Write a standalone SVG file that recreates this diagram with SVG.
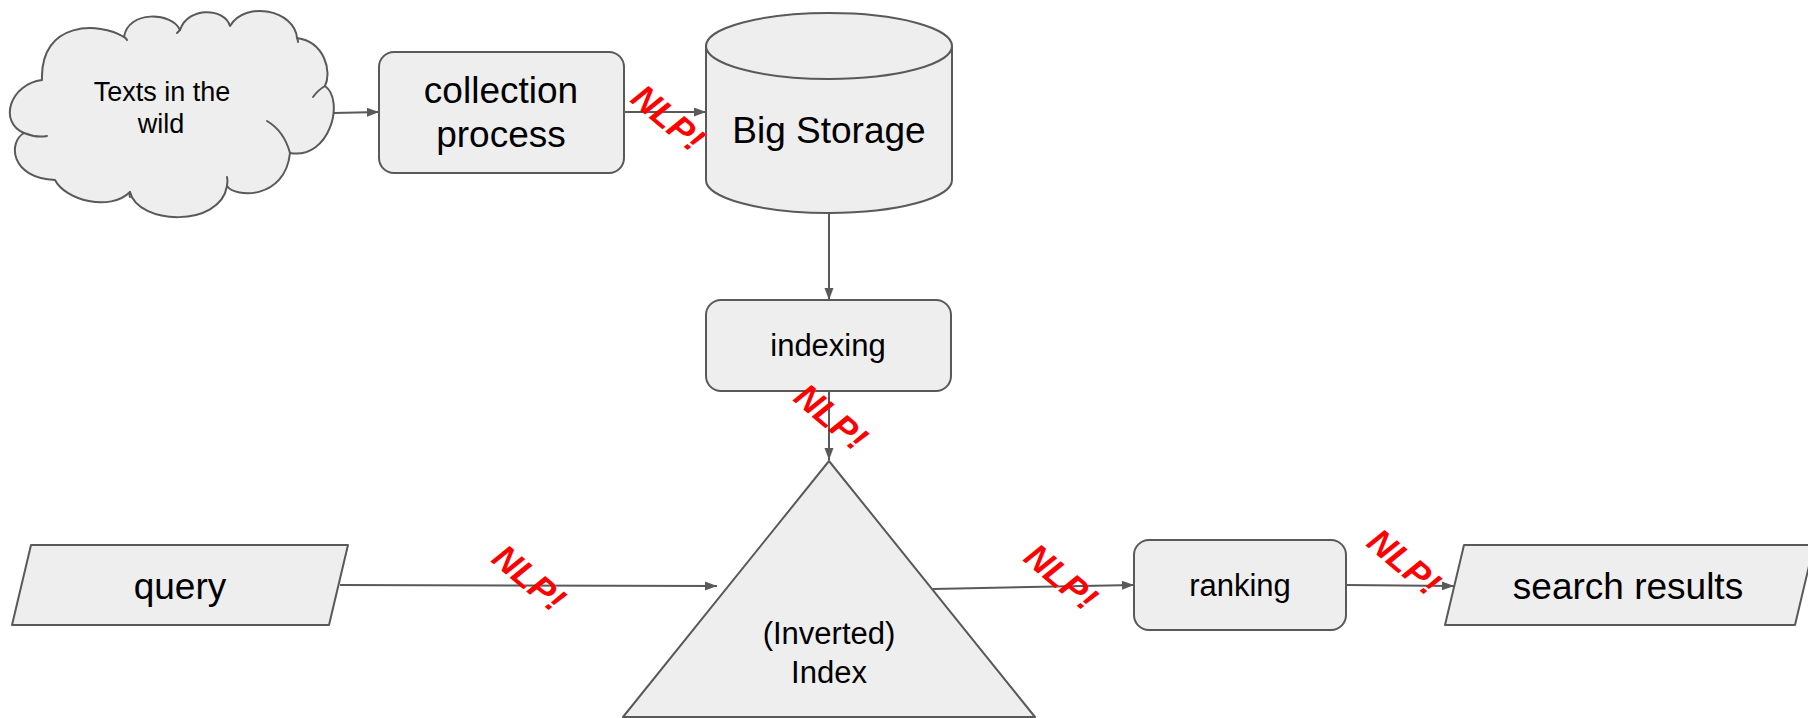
<svg xmlns="http://www.w3.org/2000/svg" width="1808" height="718" viewBox="0 0 1808 718">
  <style>
    .shape { fill: #eeeeee; stroke: #595959; stroke-width: 2; stroke-linejoin: round; }
    .tick { fill: none; stroke: #595959; stroke-width: 2; stroke-linecap: round; }
    .edge { fill: none; stroke: #595959; stroke-width: 2; }
    .label { font-family: "Liberation Sans", Arial, sans-serif; fill: #000000; text-anchor: middle; }
    .big { font-size: 37px; }
    .mid { font-size: 31px; }
    .small { font-size: 27px; }
    .nlp { font-family: "Liberation Sans", Arial, sans-serif; font-weight: bold; font-style: italic; font-size: 35px; fill: #ff0000; text-anchor: middle; }
  </style>
  <defs>
    <marker id="arrow" markerUnits="userSpaceOnUse" markerWidth="12" markerHeight="10" refX="12" refY="4.5" orient="auto">
      <path d="M0,0 L12,4.5 L0,9 Z" fill="#595959"/>
    </marker>
  </defs>

  <rect width="1808" height="718" fill="#ffffff"/>

  <!-- connectors -->
  <g id="connectors">
    <line class="edge" x1="334" y1="113" x2="379" y2="112" marker-end="url(#arrow)"/>
    <line class="edge" x1="624" y1="112" x2="706" y2="112" marker-end="url(#arrow)"/>
    <line class="edge" x1="829" y1="212" x2="829" y2="300" marker-end="url(#arrow)"/>
    <line class="edge" x1="829" y1="391" x2="829" y2="460" marker-end="url(#arrow)"/>
    <line class="edge" x1="340" y1="585" x2="717" y2="586" marker-end="url(#arrow)"/>
    <line class="edge" x1="933" y1="589" x2="1134" y2="585" marker-end="url(#arrow)"/>
    <line class="edge" x1="1346" y1="585" x2="1454" y2="586" marker-end="url(#arrow)"/>
  </g>

  <!-- cloud: texts in the wild -->
  <g id="cloud">
    <path class="shape" d="M42,80 C10,84 -2,122 24,133 C8,142 10,178 55,180 C65,200 110,212 130,192 C138,225 220,228 227,186 C235,198 285,200 290,153 C330,160 345,100 325,86 C332,72 325,42 297,38 C295,10 245,0 230,26 C225,8 188,6 180,30 C172,12 128,10 124,37 C100,22 40,20 42,80 Z"/>
    <path class="tick" d="M24,133 Q36,138 47,136"/>
    <path class="tick" d="M227,186 Q228,181 227,177"/>
    <path class="tick" d="M267,121 Q284,131 290,153"/>
    <path class="tick" d="M325,86 Q318,90 313,97"/>
    <path class="tick" d="M297,38 Q298,40 298,42"/>
    <path class="tick" d="M180,30 Q179,31 177,33"/>
    <path class="tick" d="M124,37 Q126,38 127,40"/>
    <path class="tick" d="M130,192 Q129,195 130,197"/>
    <text class="label small" x="162" y="101">Texts in the</text>
    <text class="label small" x="161" y="133">wild</text>
  </g>

  <!-- collection process -->
  <g id="collection">
    <rect class="shape" x="379" y="52" width="245" height="121" rx="15"/>
    <text class="label big" x="501" y="103">collection</text>
    <text class="label big" x="501" y="147">process</text>
  </g>

  <!-- big storage cylinder -->
  <g id="storage">
    <path class="shape" d="M706,46 L706,180 A123,33 0 0 0 952,180 L952,46 A123,33 0 0 0 706,46 Z"/>
    <path class="tick" d="M706,46 A123,33 0 0 0 952,46"/>
    <text class="label big" x="829" y="143">Big Storage</text>
  </g>

  <!-- indexing -->
  <g id="indexing">
    <rect class="shape" x="706" y="300" width="245" height="91" rx="15"/>
    <text class="label mid" x="828" y="356">indexing</text>
  </g>

  <!-- inverted index -->
  <g id="index">
    <path class="shape" d="M829,461 L1035,717 L623,717 Z"/>
    <text class="label mid" x="829" y="644">(Inverted)</text>
    <text class="label mid" x="829" y="683">Index</text>
  </g>

  <!-- query -->
  <g id="query">
    <path class="shape" d="M31,545 L348,545 L329,625 L12,625 Z"/>
    <text class="label big" x="180" y="599">query</text>
  </g>

  <!-- ranking -->
  <g id="ranking">
    <rect class="shape" x="1134" y="540" width="212" height="90" rx="15"/>
    <text class="label mid" x="1240" y="596">ranking</text>
  </g>

  <!-- search results -->
  <g id="results">
    <path class="shape" d="M1464,545 L1814,545 L1795,625 L1445,625 Z"/>
    <text class="label big" x="1628" y="599">search results</text>
  </g>

  <!-- NLP! markers -->
  <g id="nlp-marks">
    <text class="nlp" transform="translate(668,118) rotate(40)" y="12">NLP!</text>
    <text class="nlp" transform="translate(831,417) rotate(40)" y="12">NLP!</text>
    <text class="nlp" transform="translate(529,578) rotate(40)" y="12">NLP!</text>
    <text class="nlp" transform="translate(1061,577) rotate(40)" y="12">NLP!</text>
    <text class="nlp" transform="translate(1404,562) rotate(40)" y="12">NLP!</text>
  </g>
</svg>
